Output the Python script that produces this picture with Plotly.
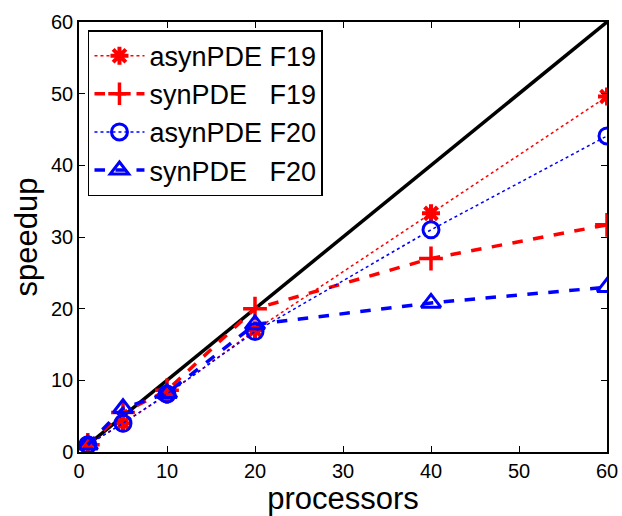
import plotly.graph_objects as go

procs = [1, 5, 10, 20, 40, 60]
asyn_f19 = [1, 4, 8, 17, 33.3, 49.6]
syn_f19 = [1, 5.5, 8.6, 20, 27, 31.7]
asyn_f20 = [1, 4, 8.1, 16.8, 31, 44.1]
syn_f20 = [1, 6.1, 8.2, 17.8, 20.8, 23]
ideal_x = [1, 60]
ideal_y = [1, 60]
ticks = [0, 10, 20, 30, 40, 50, 60]

fig = go.Figure()
fig.add_trace(go.Scatter(x=ideal_x, y=ideal_y, mode="lines",
                         line=dict(color="black", width=3.5), showlegend=False))
fig.add_trace(go.Scatter(x=procs, y=asyn_f19, mode="lines+markers", name="asynPDE F19",
                         line=dict(color="red", width=1.5, dash="dot"),
                         marker=dict(symbol="asterisk-open", size=15, color="red",
                                     line=dict(color="red", width=4))))
fig.add_trace(go.Scatter(x=procs, y=syn_f19, mode="lines+markers", name="synPDE   F19",
                         line=dict(color="red", width=3.5, dash="dash"),
                         marker=dict(symbol="cross-thin-open", size=17, color="red",
                                     line=dict(color="red", width=3.5))))
fig.add_trace(go.Scatter(x=procs, y=asyn_f20, mode="lines+markers", name="asynPDE F20",
                         line=dict(color="blue", width=1.5, dash="dot"),
                         marker=dict(symbol="circle-open", size=16, color="blue",
                                     line=dict(color="blue", width=3))))
fig.add_trace(go.Scatter(x=procs, y=syn_f20, mode="lines+markers", name="synPDE   F20",
                         line=dict(color="blue", width=3.5, dash="dash"),
                         marker=dict(symbol="triangle-up-open", size=17, color="blue",
                                     line=dict(color="blue", width=3))))

axis_common = dict(showline=True, linecolor="black", linewidth=1.5, mirror="ticks",
                   ticks="inside", ticklen=6, tickcolor="black", showgrid=False,
                   zeroline=False, automargin=False,
                   tickfont=dict(size=20, color="black"))
fig.update_layout(
    width=622, height=516,
    paper_bgcolor="white", plot_bgcolor="white",
    font=dict(family="Liberation Sans, Arial, sans-serif", color="black"),
    margin=dict(l=79, r=15, t=22, b=64),
    xaxis=dict(range=[0, 60], tickvals=ticks,
               title=dict(text="processors", font=dict(size=31), standoff=0), **axis_common),
    yaxis=dict(range=[0, 60], tickvals=ticks,
               title=dict(text="speedup", font=dict(size=31), standoff=4), **axis_common),
    legend=dict(x=0.017, y=0.981, xanchor="left", yanchor="top",
                bordercolor="black", borderwidth=1.5, bgcolor="white",
                font=dict(size=27), itemwidth=50, tracegroupgap=0),
)
fig.write_html("out.html", config={"displayModeBar": False},
               post_script="document.body.style.margin='0px';document.body.style.overflow='hidden';")
